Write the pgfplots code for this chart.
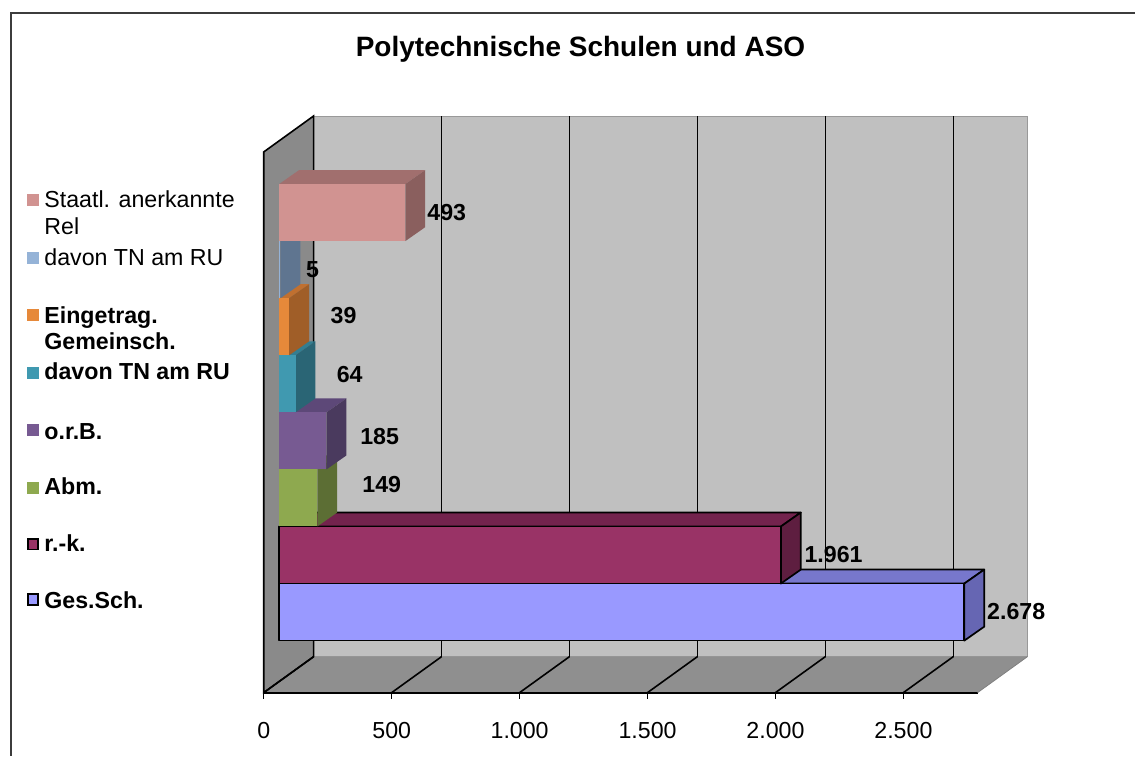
\documentclass[border=0pt]{standalone}
\usepackage{pgfplots}
\pgfplotsset{compat=1.18}
\usepackage{fontspec}
\setmainfont{Liberation Sans}

\definecolor{sidewall}{HTML}{8A8A8A}
\definecolor{backwall}{HTML}{C0C0C0}
\definecolor{floorc}{HTML}{8F8F8F}
\definecolor{framec}{HTML}{3C3C3C}

\definecolor{gesF}{HTML}{9999FF}\definecolor{gesR}{HTML}{6666B3}\definecolor{gesT}{HTML}{7777CC}
\definecolor{rkF}{HTML}{993366}\definecolor{rkR}{HTML}{5E1E40}\definecolor{rkT}{HTML}{73234D}
\definecolor{abmF}{HTML}{8EA94F}\definecolor{abmR}{HTML}{5C6E34}\definecolor{abmT}{HTML}{6F8540}
\definecolor{orbF}{HTML}{775A92}\definecolor{orbR}{HTML}{4A3A5E}\definecolor{orbT}{HTML}{5D4878}
\definecolor{tealF}{HTML}{4099B0}\definecolor{tealR}{HTML}{2A6575}\definecolor{tealT}{HTML}{337E91}
\definecolor{oraF}{HTML}{E6893A}\definecolor{oraR}{HTML}{A05E28}\definecolor{oraT}{HTML}{C07030}
\definecolor{lbF}{HTML}{95B3D7}\definecolor{lbR}{HTML}{5F7590}\definecolor{lbT}{HTML}{7890AA}
\definecolor{stF}{HTML}{D19391}\definecolor{stR}{HTML}{8A5F5E}\definecolor{stT}{HTML}{A16F6E}

% #1 value, #2 bottom of front face, #3 front, #4 right, #5 top, #6 outline
\newcommand\tdbar[6]{%
  \pgfmathsetmacro\xe{60+#1}%
  \pgfmathsetmacro\xf{138+#1}%
  \pgfmathsetmacro\yt{#2+57.1}%
  \pgfmathsetmacro\ytt{#2+71.1}%
  \pgfmathsetmacro\ybb{#2+14}%
  \addplot[fill=#5, draw=#6, line width=0.85pt, line join=round] coordinates {(60,\yt) (\xe,\yt) (\xf,\ytt) (138,\ytt)} -- cycle;
  \addplot[fill=#4, draw=#6, line width=0.85pt, line join=round] coordinates {(\xe,#2) (\xf,\ybb) (\xf,\ytt) (\xe,\yt)} -- cycle;
  \addplot[fill=#3, draw=#6, line width=0.85pt, line join=round] coordinates {(60,#2) (\xe,#2) (\xe,\yt) (60,\yt)} -- cycle;
}

\newcommand\lfont{\fontsize{11.6}{13}\selectfont}

\begin{document}
\begin{tikzpicture}
\begin{axis}[
  x=0.128pt, y=0.5pt,
  xmin=0, xmax=2985, ymin=0, ymax=577,
  clip=false,
  axis line style={draw=none},
  ytick=\empty,
  xtick={0,500,1000,1500,2000,2500},
  xticklabels={0,500,1.000,1.500,2.000,2.500},
  xtick pos=bottom,
  tick align=outside,
  major tick length=3pt,
  tick style={black, line width=0.6pt},
  xticklabel style={anchor=base, yshift=-20pt, font=\lfont},
]
% bounding box of the whole picture
\path (axis cs:-1031,-63) rectangle (axis cs:3406,693);
% frame
\draw[framec, line width=0.8pt] (axis cs:-988,-63) -- (axis cs:-988,680) -- (axis cs:3406,680);

% walls
\addplot[fill=backwall, draw=gray!80, line width=0.4pt] coordinates {(195,36) (195,577) (2985,577) (2985,36)} -- cycle;
\addplot[fill=floorc, draw=none] coordinates {(0,0) (2790,0) (2985,36) (195,36)} -- cycle;
\addplot[fill=sidewall, draw=black, line width=0.8pt] coordinates {(0,0) (0,541) (195,577) (195,36)} -- cycle;
% grid on back wall and floor
\addplot[black, line width=0.8pt, unbounded coords=jump] coordinates {
 (695,36) (695,577) (nan,nan) (1195,36) (1195,577) (nan,nan)
 (1695,36) (1695,577) (nan,nan) (2195,36) (2195,577) (nan,nan)
 (2695,36) (2695,577)};
\addplot[black, line width=0.8pt, unbounded coords=jump] coordinates {
 (0,0) (195,36) (nan,nan) (500,0) (695,36) (nan,nan) (1000,0) (1195,36) (nan,nan)
 (1500,0) (1695,36) (nan,nan) (2000,0) (2195,36) (nan,nan) (2500,0) (2695,36)};
\addplot[black, line width=0.9pt] coordinates {(0,0) (2790,0)};
\addplot[gray, line width=0.4pt] coordinates {(2790,0) (2985,36)};

% bars, bottom to top
\tdbar{2678}{52}{gesF}{gesR}{gesT}{black}
\tdbar{1961}{109.1}{rkF}{rkR}{rkT}{black}
\tdbar{149}{166.2}{abmF}{abmR}{abmT}{none}
\tdbar{185}{223.3}{orbF}{orbR}{orbT}{none}
\tdbar{64}{280.4}{tealF}{tealR}{tealT}{none}
\tdbar{39}{337.5}{oraF}{oraR}{oraT}{none}
\tdbar{5}{394.6}{lbF}{lbR}{lbT}{none}
\tdbar{493}{451.7}{stF}{stR}{stT}{none}

% value labels
\addplot[draw=none, mark=none, nodes near coords, point meta=explicit symbolic,
  every node near coord/.append style={anchor=center, inner sep=0pt, font=\bfseries\lfont}]
  coordinates {(715,480) [493] (191,423) [5] (312,377) [39] (336,318) [64]
  (453,256) [185] (461,208) [149] (2227,138) [1.961] (2941,81) [2.678]};

% title
\node[anchor=base, inner sep=0pt, font=\bfseries\fontsize{14}{16}\selectfont] at (axis cs:1238,636) {Polytechnische Schulen und ASO};

% legend
\node[fill=stF, inner sep=0pt, minimum size=6pt] at (axis cs:-902,493) {};
\node[fill=lbF, inner sep=0pt, minimum size=6pt] at (axis cs:-902,435) {};
\node[fill=oraF, inner sep=0pt, minimum size=6pt] at (axis cs:-902,378) {};
\node[fill=tealF, inner sep=0pt, minimum size=6pt] at (axis cs:-902,320) {};
\node[fill=orbF, inner sep=0pt, minimum size=6pt] at (axis cs:-902,263) {};
\node[fill=abmF, inner sep=0pt, minimum size=6pt] at (axis cs:-902,205) {};
\node[fill=rkF, draw=black, line width=0.9pt, inner sep=0pt, minimum size=5.4pt] at (axis cs:-902,148.5) {};
\node[fill=gesF, draw=black, line width=0.9pt, inner sep=0pt, minimum size=5.4pt] at (axis cs:-902,93) {};

\node[anchor=base west, inner sep=0pt, font=\lfont] at (axis cs:-859,485) {Staatl. anerkannte};
\node[anchor=base west, inner sep=0pt, font=\lfont] at (axis cs:-859,458) {Rel};
\node[anchor=base west, inner sep=0pt, font=\lfont] at (axis cs:-859,427) {davon TN am RU};
\node[anchor=base west, inner sep=0pt, font=\bfseries\lfont] at (axis cs:-859,369) {Eingetrag.};
\node[anchor=base west, inner sep=0pt, font=\bfseries\lfont] at (axis cs:-859,343) {Gemeinsch.};
\node[anchor=base west, inner sep=0pt, font=\bfseries\lfont] at (axis cs:-859,313) {davon TN am RU};
\node[anchor=base west, inner sep=0pt, font=\bfseries\lfont] at (axis cs:-859,253) {o.r.B.};
\node[anchor=base west, inner sep=0pt, font=\bfseries\lfont] at (axis cs:-859,198) {Abm.};
\node[anchor=base west, inner sep=0pt, font=\bfseries\lfont] at (axis cs:-859,141) {r.-k.};
\node[anchor=base west, inner sep=0pt, font=\bfseries\lfont] at (axis cs:-859,84) {Ges.Sch.};
\end{axis}
\end{tikzpicture}
\end{document}
